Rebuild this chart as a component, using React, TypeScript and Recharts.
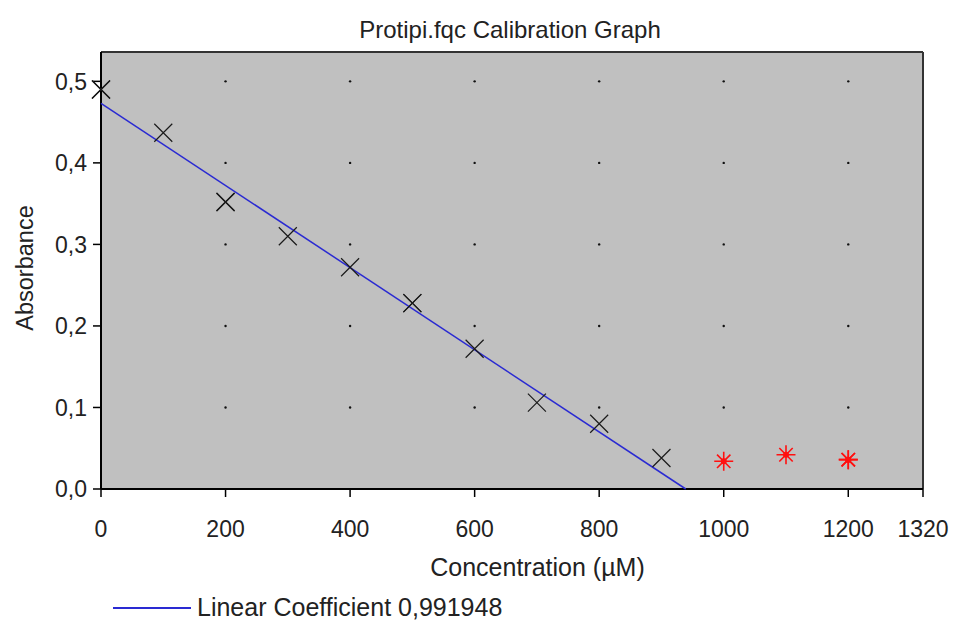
import React from 'react'
import {
  ScatterChart,
  Scatter,
  XAxis,
  YAxis,
  CartesianGrid,
  ReferenceLine,
  ReferenceDot,
} from 'recharts'

// standards (repeated points drawn twice, they look bolder in the original)
const stdConc = [0, 0, 100, 200, 200, 300, 400, 500, 500, 600, 700, 800, 900]
const stdAbs = [0.49, 0.49, 0.437, 0.352, 0.352, 0.31, 0.272, 0.228, 0.228, 0.172, 0.106, 0.08, 0.038]

// samples outside the fit (red stars)
const outConc = [1000, 1100, 1200, 1200]
const outAbs = [0.034, 0.042, 0.036, 0.036]

// regression line end points
const fitConc = [0, 939]
const fitAbs = [0.473, 0]

const xTicks = [0, 200, 400, 600, 800, 1000, 1200, 1320]
const yTicks = [0, 0.1, 0.2, 0.3, 0.4, 0.5]
const X_MAX = 1320
const Y_MAX = 0.536

const FONT = '"Liberation Sans", Arial, sans-serif'
const TEXT = '#222'
const BLUE = '#2a2ad2'

const stdData = stdConc.map((x, i) => ({ x, y: stdAbs[i] }))
const outData = outConc.map((x, i) => ({ x, y: outAbs[i] }))
const fitData = fitConc.map((x, i) => ({ x, y: fitAbs[i] }))
const dotX = xTicks.filter(v => v > 0 && v < X_MAX)
const dotY = yTicks.filter(v => v > 0)

const Cross = (props: any) => {
  const { cx, cy } = props
  const r = 9
  return (
    <path
      d={`M${cx - r},${cy - r}L${cx + r},${cy + r}M${cx + r},${cy - r}L${cx - r},${cy + r}`}
      stroke="#1a1a1a"
      strokeWidth={1.2}
      fill="none"
    />
  )
}

const Star = (props: any) => {
  const { cx, cy } = props
  const r = 9.5
  const d = 6.7
  return (
    <g stroke="#ff1010" strokeWidth={1.6}>
      <path d={`M${cx - r},${cy}L${cx + r},${cy}M${cx},${cy - r}L${cx},${cy + r}M${cx - d},${cy - d}L${cx + d},${cy + d}M${cx + d},${cy - d}L${cx - d},${cy + d}`} />
      <circle cx={cx} cy={cy} r={3} fill="#ff1010" stroke="none" />
    </g>
  )
}

const fmt = (v: number) => v.toFixed(1).replace('.', ',')

export default function App() {
  return (
    <div style={{ position: 'absolute', left: 0, top: 0, width: 954, height: 621, background: '#fff', fontFamily: FONT }}>
      <div style={{ position: 'absolute', left: 0, width: 1020, top: 16, textAlign: 'center', fontSize: 24, color: TEXT }}>
        Protipi.fqc Calibration Graph
      </div>
      <ScatterChart width={954} height={621} margin={{ top: 52, right: 31, bottom: 0, left: 0 }}>
        <CartesianGrid fill="#c0c0c0" horizontal={false} vertical={false} />
        <XAxis
          type="number"
          dataKey="x"
          domain={[0, X_MAX]}
          ticks={xTicks}
          interval={0}
          height={132}
          tickSize={8}
          tickMargin={24}
          axisLine={{ stroke: '#000', strokeWidth: 2 }}
          tickLine={{ stroke: '#000', strokeWidth: 1.5 }}
          tick={{ fill: TEXT, fontSize: 23, fontFamily: FONT }}
        />
        <YAxis
          type="number"
          dataKey="y"
          domain={[0, Y_MAX]}
          ticks={yTicks}
          interval={0}
          width={101}
          tickSize={8}
          tickMargin={6}
          tickFormatter={fmt}
          axisLine={{ stroke: '#000', strokeWidth: 2 }}
          tickLine={{ stroke: '#000', strokeWidth: 1.5 }}
          tick={{ fill: TEXT, fontSize: 23, fontFamily: FONT }}
        />
        <ReferenceLine y={Y_MAX} stroke="#333" strokeWidth={2} ifOverflow="visible" />
        <ReferenceLine x={X_MAX} stroke="#333" strokeWidth={2} ifOverflow="visible" />
        {dotX.map(x =>
          dotY.map(y => (
            <ReferenceDot key={`${x}-${y}`} x={x} y={y} r={1.2} fill="#111" stroke="none" />
          ))
        )}
        <Scatter
          data={fitData}
          line={{ stroke: BLUE, strokeWidth: 1.5 }}
          shape={() => <g />}
          isAnimationActive={false}
        />
        <Scatter data={stdData} shape={Cross} isAnimationActive={false} />
        <Scatter data={outData} shape={Star} isAnimationActive={false} />
      </ScatterChart>
      <div style={{ position: 'absolute', left: 0, width: 1075, top: 553, textAlign: 'center', fontSize: 25, color: TEXT }}>
        Concentration (µM)
      </div>
      <div
        style={{
          position: 'absolute',
          left: 25,
          top: 268,
          transform: 'translate(-50%, -50%) rotate(-90deg)',
          fontSize: 23.5,
          color: TEXT,
          whiteSpace: 'nowrap',
        }}
      >
        Absorbance
      </div>
      <div style={{ position: 'absolute', left: 113, top: 593, display: 'flex', alignItems: 'center', fontSize: 25, color: TEXT }}>
        <span style={{ display: 'inline-block', width: 78, height: 2, background: BLUE, marginRight: 6 }} />
        Linear Coefficient 0,991948
      </div>
    </div>
  )
}
